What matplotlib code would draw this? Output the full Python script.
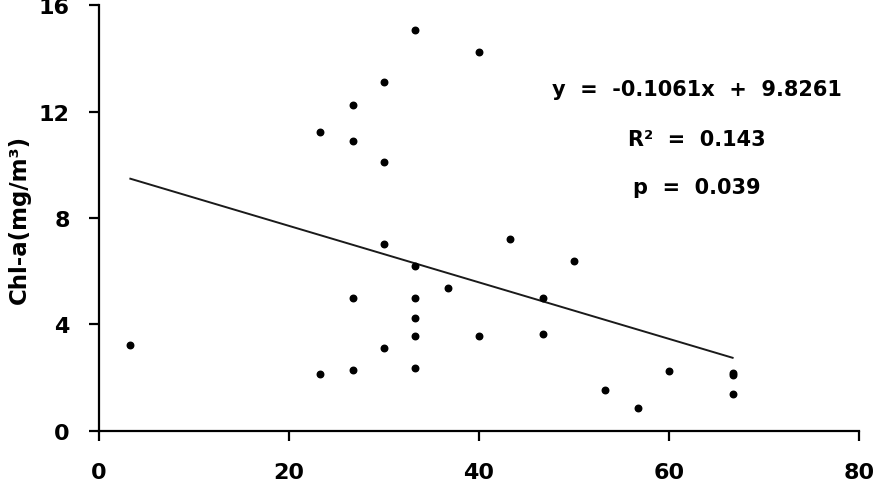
import matplotlib
matplotlib.use('Agg')
import matplotlib.pyplot as plt
import numpy as np

plt.rcParams['font.family'] = ['DejaVu Sans']
plt.rcParams['font.weight'] = 'bold'

# 数据: 横轴值与 Chl-a 值
x_vals = [3.3, 23.3, 23.3, 26.7, 26.7, 26.7, 26.7, 30, 30, 30, 30,
          33.3, 33.3, 33.3, 33.3, 33.3, 33.3, 36.7, 40, 40, 43.3,
          46.7, 46.7, 50, 53.3, 56.7, 60, 66.7, 66.7, 66.7]
chl_a = [3.23, 11.24, 2.15, 12.23, 10.89, 5.01, 2.30, 13.12, 10.09, 7.04, 3.12,
         15.07, 6.18, 5.01, 4.23, 3.58, 2.37, 5.36, 14.22, 3.58, 7.21,
         4.98, 3.64, 6.40, 1.53, 0.85, 2.24, 2.18, 2.11, 1.39]

slope = -0.1061
intercept = 9.8261
eq_text = 'y  =  -0.1061x  +  9.8261'
r2_text = 'R²  =  0.143'
p_text = 'p  =  0.039'

x_ticks = [0, 20, 40, 60, 80]
y_ticks = [0, 4, 8, 12, 16]

fig = plt.figure(figsize=(8.8, 4.89), dpi=100)
ax = fig.add_axes([0.1125, 0.1166, 0.8636, 0.8711])

ax.scatter(x_vals, chl_a, s=22, color='black', zorder=3)

# 回归线
xl = np.array([min(x_vals), max(x_vals)])
ax.plot(xl, slope * xl + intercept, color='#1a1a1a', lw=1.4)

ax.set_xlim(0, 80)
ax.set_ylim(0, 16)
ax.set_xticks(x_ticks)
ax.set_yticks(y_ticks)

for s in ['top', 'right']:
    ax.spines[s].set_visible(False)
for s in ['left', 'bottom']:
    ax.spines[s].set_linewidth(1.6)
    ax.spines[s].set_color('black')

ax.tick_params(axis='both', direction='out', length=7, width=1.6, labelsize=16)
ax.tick_params(axis='x', pad=15)
ax.tick_params(axis='y', pad=14)

ax.set_ylabel('Chl-a(mg/m³)', fontsize=16.5, fontweight='bold', labelpad=6)

# 方程文字
ax.text(62.9, 12.85, eq_text, ha='center', va='center', fontsize=15, fontweight='bold')
ax.text(62.9, 10.97, r2_text, ha='center', va='center', fontsize=15, fontweight='bold')
ax.text(62.9, 9.16, p_text, ha='center', va='center', fontsize=15, fontweight='bold')

fig.savefig('out.png', dpi=100)
